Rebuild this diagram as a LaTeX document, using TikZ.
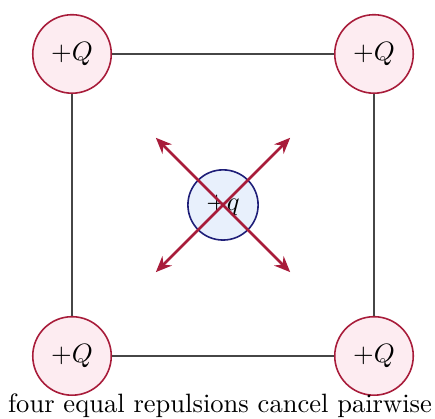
\documentclass[tikz,border=0pt]{standalone}
\usetikzlibrary{arrows.meta}
\definecolor{crim}{RGB}{168,28,58}
\definecolor{pinkfill}{RGB}{253,236,241}
\definecolor{bluefill}{RGB}{232,240,252}
\definecolor{navy}{RGB}{30,30,120}
\definecolor{edgegray}{RGB}{70,70,70}
\begin{document}
\begin{tikzpicture}[
  bigcharge/.style={circle, draw=crim, fill=pinkfill, line width=0.6pt, minimum size=1.04cm, inner sep=0pt},
  testcharge/.style={circle, draw=navy, fill=bluefill, line width=0.6pt, minimum size=0.93cm, inner sep=0pt},
  side/.style={draw=edgegray, line width=0.8pt},
  force/.style={draw=crim, line width=1pt, -{Stealth[length=6pt,width=5pt]}}
]
\useasboundingbox (-2.954,-2.834) rectangle (2.808,2.715);
\node[bigcharge] (tl) at (-2,2) {$+Q$};
\node[bigcharge] (tr) at (2,2) {$+Q$};
\node[bigcharge] (bl) at (-2,-2) {$+Q$};
\node[bigcharge] (br) at (2,-2) {$+Q$};
\draw[side] (tl) -- (tr);
\draw[side] (tr) -- (br);
\draw[side] (br) -- (bl);
\draw[side] (bl) -- (tl);
\node[testcharge] (q) at (0,0) {$+q$};
\coordinate (ftl) at (-0.89,0.89);
\coordinate (ftr) at (0.89,0.89);
\coordinate (fbl) at (-0.89,-0.89);
\coordinate (fbr) at (0.89,-0.89);
\draw[force] (q.center) -- (ftl);
\draw[force] (q.center) -- (ftr);
\draw[force] (q.center) -- (fbl);
\draw[force] (q.center) -- (fbr);
\node[anchor=base, inner sep=0pt] (cap) at (-0.04,-2.755) {four equal repulsions cancel pairwise};
\end{tikzpicture}
\end{document}
